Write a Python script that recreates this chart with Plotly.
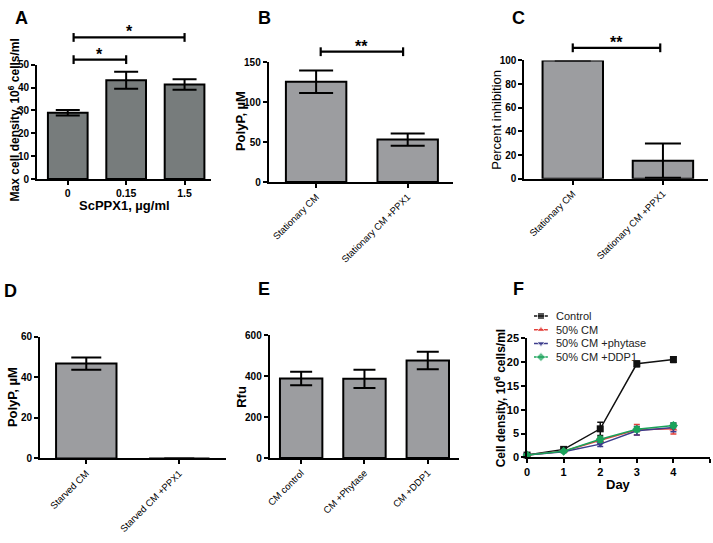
import plotly.graph_objects as go

W, H = 713, 543

# ---------------- data ----------------
a_cats = ['0', '0.15', '1.5']
a_vals = [29.0, 43.2, 41.3]
a_err = [1.2, 3.7, 2.3]

b_cats = ['Stationary CM', 'Stationary CM +PPX1']
b_vals = [125.4, 53.0]
b_err = [14.0, 7.8]

c_cats = ['Stationary CM', 'Stationary CM +PPX1']
c_vals = [100.0, 15.3]
c_err = [None, 14.5]

d_cats = ['Starved CM', 'Starved CM +PPX1']
d_vals = [46.8, 0.0]
d_err = [3.0, None]

e_cats = ['CM control', 'CM +Phytase', 'CM +DDP1']
e_vals = [389, 387, 477]
e_err = [33, 45, 43]

f_days = [0, 1, 2, 3, 4]
f_names = ['Control', '50% CM', '50% CM +phytase', '50% CM +DDP1']
f_control = [0.5, 1.7, 6.0, 19.6, 20.5]
f_control_err = [0.1, 0.2, 1.4, 0.6, 0.6]
f_cm = [0.5, 1.3, 3.6, 5.8, 6.0]
f_cm_err = [0.1, 0.2, 0.6, 1.1, 1.1]
f_phy = [0.5, 1.2, 2.8, 5.6, 6.3]
f_phy_err = [0.1, 0.2, 0.5, 0.9, 0.9]
f_ddp = [0.5, 1.3, 3.8, 5.9, 6.7]
f_ddp_err = [0.1, 0.2, 0.6, 0.5, 0.5]

# ---------------- style ----------------
FONT = "Liberation Sans, Arial, Helvetica, sans-serif"
BAR_A = '#777c7c'
BAR = '#9c9da0'
F_COLORS = ['#111111', '#e4403a', '#3c3c8c', '#1aa35a']
F_SYMBOLS = ['square', 'triangle-up', 'triangle-down', 'diamond']


def px_x(p):
    return p / W


def px_y(p):
    return 1 - p / H


fig = go.Figure()

# panel geometry (pixel boxes) and ranges
panels = {
    1: dict(box=(33, 208, 60, 177), xr=[-0.53, 2.45], yr=[0, 50], dt=10),
    2: dict(box=(266, 452, 57.3, 180), xr=[-0.52, 1.5], yr=[0, 150], dt=50),
    3: dict(box=(523, 708, 55.7, 176.7), xr=[-0.54, 1.5], yr=[0, 100], dt=20),
    4: dict(box=(36, 223, 338.3, 462.7), xr=[-0.5, 1.5], yr=[0, 60], dt=20),
    5: dict(box=(267, 458, 336.7, 462.3), xr=[-0.5, 2.5], yr=[0, 600], dt=200),
    6: dict(box=(526, 710, 339.5, 461.7), xr=[0, 5], yr=[0, 25], dt=5),
}


def ax(i, kind):
    return kind if i == 1 else f'{kind}{i}'


bar_specs = [
    (1, a_cats, a_vals, a_err, BAR_A, 0.68, 12),
    (2, b_cats, b_vals, b_err, BAR, 0.66, 17),
    (3, c_cats, c_vals, c_err, BAR, 0.67, 18),
    (4, d_cats, d_vals, d_err, BAR, 0.65, 15),
    (5, e_cats, e_vals, e_err, BAR, 0.67, 11),
]
for i, cats, vals, errs, col, wd, cap in bar_specs:
    fig.add_trace(go.Bar(
        x=cats, y=vals, xaxis=ax(i, 'x'), yaxis=ax(i, 'y'), width=wd,
        marker=dict(color=col, line=dict(color='black', width=2)),
        error_y=dict(type='data', array=errs, visible=True, color='black',
                     thickness=2, width=cap),
        showlegend=False))

f_series = [(f_control, f_control_err), (f_cm, f_cm_err), (f_phy, f_phy_err), (f_ddp, f_ddp_err)]
for k, (vals, errs) in enumerate(f_series):
    fig.add_trace(go.Scatter(
        x=f_days, y=vals, xaxis='x6', yaxis='y6', mode='lines+markers',
        name=f_names[k], cliponaxis=False,
        line=dict(color=F_COLORS[k], width=1.5),
        marker=dict(symbol=F_SYMBOLS[k], size=7, color=F_COLORS[k]),
        error_y=dict(type='data', array=errs, visible=True, color=F_COLORS[k],
                     thickness=1.5, width=3),
        showlegend=False))

# manual compact legend for panel F (own tiny axes)
for k, nm in enumerate(f_names):
    fig.add_trace(go.Scatter(
        x=[0, 0.5, 1], y=[k, k, k], xaxis='x7', yaxis='y7', mode='lines+markers',
        cliponaxis=False, hoverinfo='skip',
        line=dict(color=F_COLORS[k], width=1.5),
        marker=dict(symbol=F_SYMBOLS[k], size=[0, 7, 0], color=F_COLORS[k]),
        showlegend=False))

layout = dict(width=W, height=H, margin=dict(l=0, r=0, t=0, b=0),
              paper_bgcolor='white', plot_bgcolor='white',
              font=dict(family=FONT, color='black'), showlegend=False)

for i, p in panels.items():
    x0, x1, y0, y1 = p['box']
    xa = dict(domain=[px_x(x0), px_x(x1)], range=p['xr'], anchor=ax(i, 'y'),
              showline=True, linecolor='black', linewidth=1.5,
              ticks='outside', ticklen=4, tickwidth=1.5, tickcolor='black',
              showgrid=False, zeroline=False, fixedrange=True)
    ya = dict(domain=[px_y(y1), px_y(y0)], range=p['yr'], anchor=ax(i, 'x'),
              showline=True, linecolor='black', linewidth=1.5,
              ticks='outside', ticklen=4, tickwidth=1.5, tickcolor='black',
              dtick=p['dt'], tick0=0,
              tickfont=dict(size=10, weight='bold', family=FONT, color='black'),
              showgrid=False, zeroline=False, fixedrange=True)
    if i == 1:
        xa['tickfont'] = dict(size=10.5, weight='bold', family=FONT, color='black')
    elif i == 6:
        xa['tickfont'] = dict(size=11, weight='bold', family=FONT, color='black')
        xa['dtick'] = 1
        ya['tickfont'] = dict(size=11, weight='bold', family=FONT, color='black')
    else:
        xa['tickangle'] = -45
        xa['tickfont'] = dict(size=9.5, family=FONT, color='black')
    layout['xaxis' if i == 1 else f'xaxis{i}'] = xa
    layout['yaxis' if i == 1 else f'yaxis{i}'] = ya

layout['xaxis7'] = dict(domain=[px_x(533), px_x(547)], range=[0, 1], anchor='y7', visible=False, fixedrange=True)
layout['yaxis7'] = dict(domain=[px_y(366), px_y(310)], range=[3.5, -0.5], anchor='x7', visible=False, fixedrange=True)

fig.update_layout(**layout)

annotations = []
shapes = []

# panel letters
for letter, (lx, ly) in zip('ABCDEF', [(18, 12), (262, 12), (517, 12), (7, 291), (261, 289), (517, 289)]):
    annotations.append(dict(text=letter, x=px_x(lx), y=px_y(ly), xref='paper', yref='paper',
                            showarrow=False, xanchor='center', yanchor='middle',
                            font=dict(size=18, weight='bold', family=FONT)))

# axis titles
titles = [
    ('Max cell density, 10<sup>6</sup> cells/ml', 10, 116, -90, 12, 'bold'),
    ('ScPPX1, µg/ml', 121, 204, 0, 13, 'bold'),
    ('PolyP, µM', 238, 118, -90, 13, 'bold'),
    ('Percent inhibition', 495, 116, -90, 13, 'normal'),
    ('PolyP, µM', 8, 400, -90, 13, 'bold'),
    ('Rfu', 238, 400, -90, 13, 'bold'),
    ('Cell density, 10<sup>6</sup> cells/ml', 499, 401, -90, 12, 'bold'),
    ('Day', 618, 489, 0, 13, 'bold'),
]
for txt, tx, ty, ang, sz, wt in titles:
    annotations.append(dict(text=txt, x=px_x(tx), y=px_y(ty), xref='paper', yref='paper',
                            showarrow=False, xanchor='center', yanchor='middle', textangle=ang,
                            font=dict(size=sz, weight=wt, family=FONT)))

# legend text for F
for k, nm in enumerate(f_names):
    annotations.append(dict(text=nm, x=px_x(553), y=px_y(317 + 14 * k), xref='paper', yref='paper',
                            showarrow=False, xanchor='left', yanchor='middle',
                            font=dict(size=11, family=FONT, color='#222222')))


# significance brackets (category index -> paper coordinate through each panel's scale)
def cat_to_paper(i, c):
    x0, x1, _, _ = panels[i]['box']
    r0, r1 = panels[i]['xr']
    return px_x(x0 + (c - r0) / (r1 - r0) * (x1 - x0))


def val_to_paper(i, v):
    _, _, y0, y1 = panels[i]['box']
    r0, r1 = panels[i]['yr']
    return px_y(y1 - (v - r0) / (r1 - r0) * (y1 - y0))


brackets = [
    (1, 0.1, 1.0, 52.2, '*'),
    (1, 0.1, 2.0, 61.9, '*'),
    (2, 0.05, 0.95, 162.9, '**'),
    (3, 0.0, 0.97, 110.7, '**'),
]
tick_h = 4.5 / H
for i, c0, c1, v, star in brackets:
    xa0, xa1, yb = cat_to_paper(i, c0), cat_to_paper(i, c1), val_to_paper(i, v)
    line = dict(color='black', width=2.2)
    shapes.append(dict(type='line', xref='paper', yref='paper', x0=xa0, x1=xa1, y0=yb, y1=yb, line=line))
    for xe in (xa0, xa1):
        shapes.append(dict(type='line', xref='paper', yref='paper', x0=xe, x1=xe,
                           y0=yb - tick_h, y1=yb + tick_h, line=line))
    annotations.append(dict(text=star, x=(xa0 + xa1) / 2, y=yb, xref='paper', yref='paper',
                            showarrow=False, xanchor='center', yanchor='middle', yshift=5.5,
                            font=dict(size=16, weight='bold', family=FONT)))

fig.update_layout(annotations=annotations, shapes=shapes)

fig.write_html("out.html", config={'displayModeBar': False},
               post_script="document.body.style.margin='0';")
